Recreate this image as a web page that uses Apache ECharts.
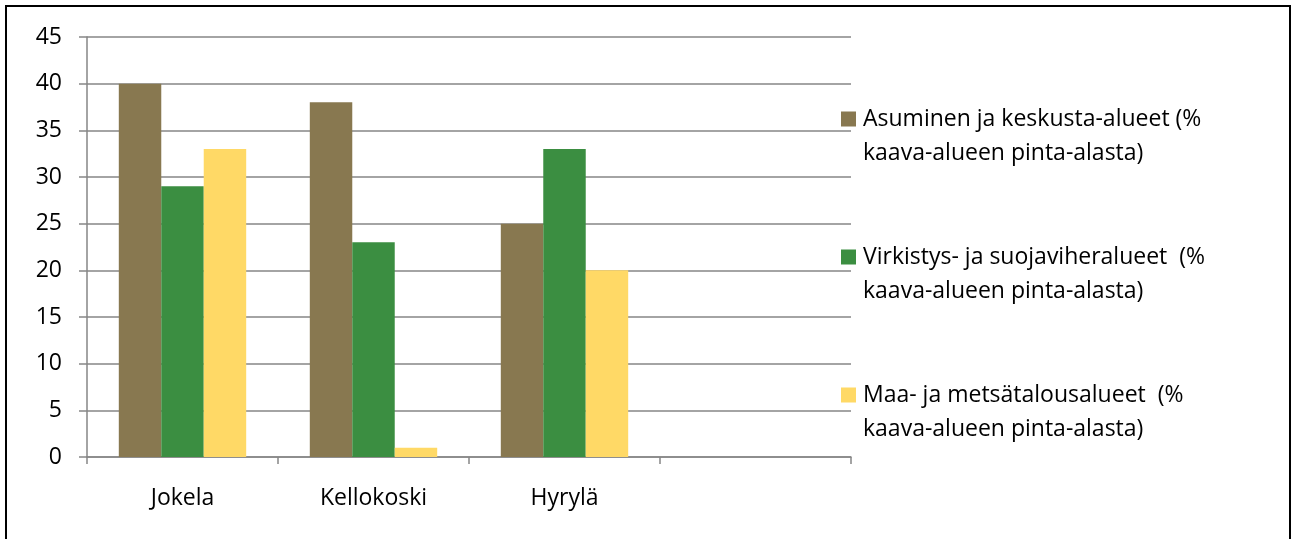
<!DOCTYPE html>
<html>
<head>
<meta charset="utf-8">
<script src="https://cdn.jsdelivr.net/npm/echarts@6/dist/echarts.min.js"></script>
<style>
html, body { margin: 0; padding: 0; background: #fff; }
#chart { width: 1292px; height: 539px; }
</style>
</head>
<body>
<div id="chart"></div>
<script>
var categories = ['Jokela', 'Kellokoski', 'Hyrylä', ''];
var seriesNames = [
    'Asuminen ja keskusta-alueet (%\nkaava-alueen pinta-alasta)',
    'Virkistys- ja suojaviheralueet  (%\nkaava-alueen pinta-alasta)',
    'Maa- ja metsätalousalueet  (%\nkaava-alueen pinta-alasta)'
];
var asuminen = [40, 38, 25, null];
var virkistys = [29, 23, 33, null];
var maaMetsa = [33, 1, 20, null];
var colors = ['#887850', '#3b8e41', '#ffd966'];

var fontFam = '"Open Sans", "Noto Sans", sans-serif';
// square at top of a tall icon box so it lines up with the first text line
var legendIcon = 'path://M0,0h15v15h-15z M0,48.99h0.01v0.01h-0.01z';

var myChart = echarts.init(document.getElementById('chart'));
var option = {
    animation: false,
    backgroundColor: '#fff',
    color: colors,
    textStyle: { fontFamily: fontFam },
    graphic: [{
        type: 'rect',
        shape: { x: 6, y: 6, width: 1284, height: 545 },
        style: { fill: 'none', stroke: '#000', lineWidth: 2 },
        silent: true
    }],
    grid: { left: 87, right: 441, top: 37, bottom: 82 },
    legend: {
        orient: 'vertical',
        left: 841,
        top: 102,
        padding: 0,
        itemWidth: 15,
        itemHeight: 49,
        itemGap: 70,
        icon: legendIcon,
        textStyle: { fontSize: 23, color: '#000', lineHeight: 34, fontFamily: fontFam, padding: [0, 0, 0, 2] }
    },
    xAxis: {
        type: 'category',
        data: categories,
        axisLine: { lineStyle: { color: '#868686', width: 1.5 } },
        axisTick: { show: true, length: 7, lineStyle: { color: '#868686', width: 1.5 } },
        axisLabel: { color: '#000', fontSize: 23, margin: 30, fontFamily: fontFam }
    },
    yAxis: {
        type: 'value',
        min: 0,
        max: 45,
        interval: 5,
        axisLine: { show: true, lineStyle: { color: '#868686', width: 1.5 } },
        axisTick: { show: true, length: 8, lineStyle: { color: '#868686', width: 1.5 } },
        splitLine: { lineStyle: { color: '#868686', width: 1.5 } },
        axisLabel: { color: '#000', fontSize: 23, margin: 25, fontFamily: fontFam }
    },
    series: [
        { name: seriesNames[0], type: 'bar', data: asuminen, barGap: '0%', barCategoryGap: '33.3%' },
        { name: seriesNames[1], type: 'bar', data: virkistys, barGap: '0%', barCategoryGap: '33.3%' },
        { name: seriesNames[2], type: 'bar', data: maaMetsa, barGap: '0%', barCategoryGap: '33.3%' }
    ]
};
myChart.setOption(option);
</script>
</body>
</html>
